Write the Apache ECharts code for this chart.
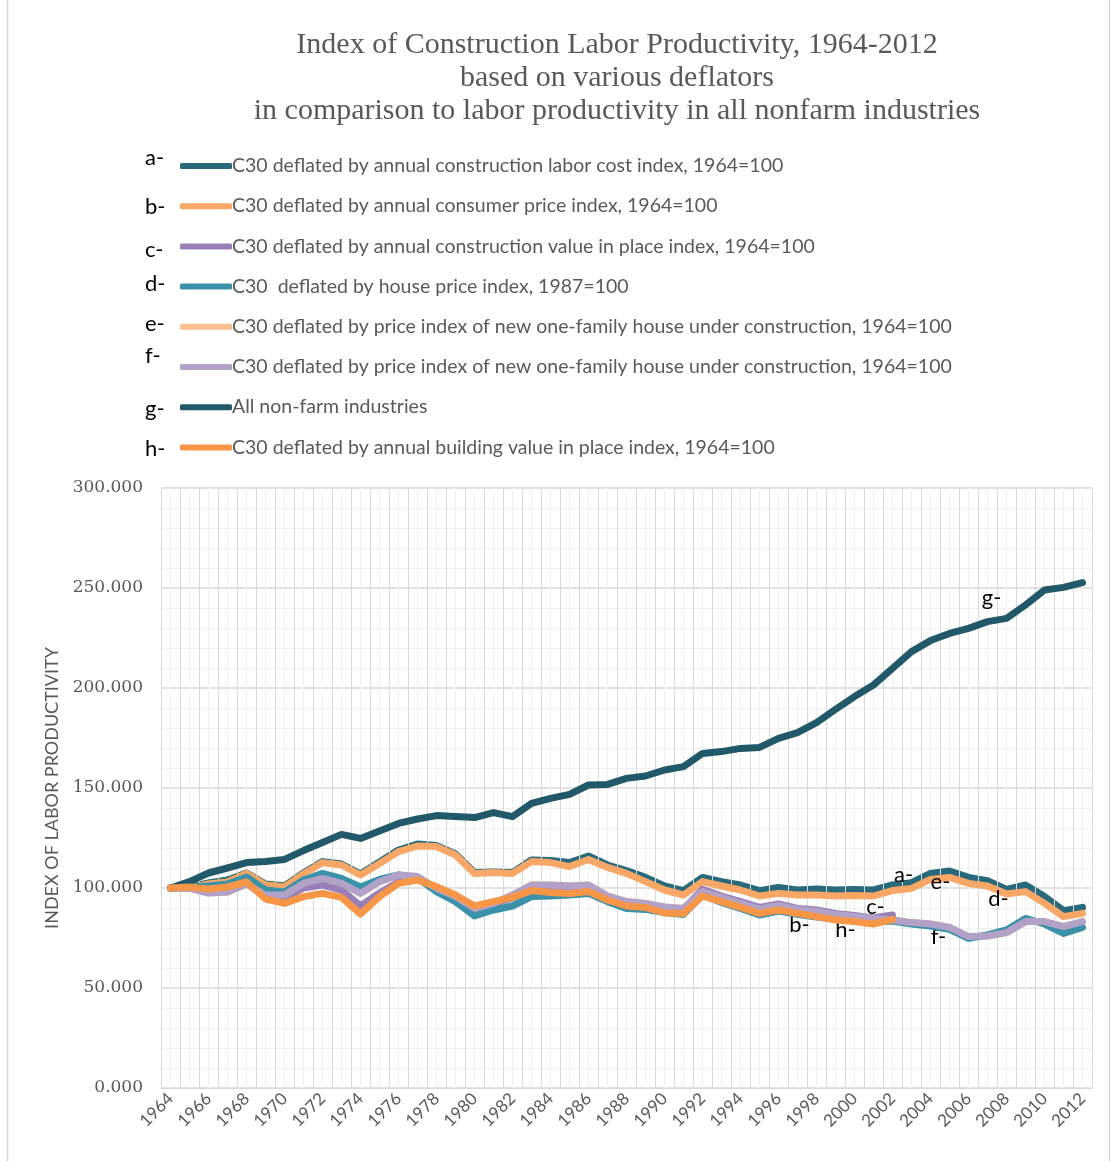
<!DOCTYPE html>
<html>
<head>
<meta charset="utf-8">
<title>Index of Construction Labor Productivity</title>
<script src="https://cdn.jsdelivr.net/npm/echarts@6/dist/echarts.min.js"></script>
<style>
  html, body { margin: 0; padding: 0; background: #fff; }
  #main { width: 1115px; height: 1161px; }
</style>
</head>
<body>
<div id="main"></div>
<script>
var years = ['1964','1965','1966','1967','1968','1969','1970','1971','1972','1973',
  '1974','1975','1976','1977','1978','1979','1980','1981','1982','1983',
  '1984','1985','1986','1987','1988','1989','1990','1991','1992','1993',
  '1994','1995','1996','1997','1998','1999','2000','2001','2002','2003',
  '2004','2005','2006','2007','2008','2009','2010','2011','2012'];

// a- construction labor cost index
var laborCost = [100, 100.5, 102.5, 104, 107.5, 102, 101, 107.5, 113.2, 112,
  107, 113, 119, 122, 121.2, 117, 107.7, 108, 107.7, 114,
  113.7, 112.7, 116, 111.5, 108.7, 105.3, 101, 98.7, 105.3, 103.2,
  101.5, 98.7, 100.3, 99, 99.5, 99, 99.3, 99, 101.5, 102.7,
  107.3, 108.5, 105.3, 103.7, 99.3, 101.5, 95.7, 88.7, 90.3];
// b- consumer price index
var consumerPrice = [100, 100, 102, 103, 107.3, 101.5, 100.5, 107, 112.7, 111.5,
  106.5, 112.3, 118.2, 121, 120.7, 116.5, 107.3, 107.7, 107.3, 113.2,
  112.7, 110.7, 114.3, 110.3, 107.3, 103.2, 99, 96.5, 103.2, 101,
  99, 96, 97.3, 96.5, 96.5, 96, 96.3, 96, 98.7, 99.8,
  104.3, 105.3, 102.3, 101, 97, 98.2, 92.3, 85.7, 87.3];
// c- construction value in place index (ends 2002)
var valueInPlace = [100, 100, 98, 99, 102.5, 95.5, 95, 100, 101.5, 99,
  91, 97.5, 103, 104.5, 100, 95.5, 89.5, 92, 95, 99.5,
  99.3, 99, 99.5, 95, 92.5, 92, 90, 89.5, 99.3, 96,
  93.2, 90.3, 92, 89.8, 89, 87.3, 86.2, 85, 86.5, null,
  null, null, null, null, null, null, null, null, null];
// d- house price index
var housePrice = [100, 100.5, 101, 102, 105.5, 99, 98, 104, 107.3, 104.8,
  100.5, 104.3, 106.5, 105, 98.2, 93.2, 86, 89, 91, 95.7,
  96, 96.5, 97.3, 93.2, 89.8, 89.3, 87.7, 86.8, 96.5, 92.8,
  89.8, 86.5, 88.5, 86.8, 85.5, 84.5, 83.5, 83.2, 83.5, 82,
  81, 79.3, 74.8, 76.5, 79, 84.8, 82, 77.3, 80.3];
// e- price index of new one-family house under construction
var newHouseE = [100, 100, 97.5, 98, 102, 96.5, 96.5, 102.3, 104.8, 102.3,
  97.3, 103.2, 106.5, 105.7, 99.8, 95.7, 89.8, 92.3, 96.5, 101.5,
  101.5, 101, 101.5, 96, 93.2, 92.3, 90.5, 89.8, 98.2, 95.3,
  92.3, 89.5, 91.3, 89.3, 88.3, 86.7, 85.8, 84.8, 84, 82.7,
  82, 80.3, 75.7, 76, 77.7, 83.2, 83.2, 80.7, 83.2];
// f- price index of new one-family house under construction
var newHouseF = [100, 100, 97.5, 98, 102, 96.5, 96.5, 102.3, 104.8, 102.3,
  97.3, 103.2, 106.5, 105.7, 99.8, 95.7, 89.8, 92.3, 96.5, 101.5,
  101.5, 101, 101.5, 96, 93.2, 92.3, 90.5, 89.8, 98.2, 95.3,
  92.3, 89.5, 91.3, 89.3, 88.3, 86.7, 85.8, 84.8, 84, 82.7,
  82, 80.3, 75.7, 76, 77.7, 83.2, 83.2, 80.7, 83.2];
// g- all non-farm industries
var nonFarm = [100, 103.2, 107.5, 110, 112.7, 113.3, 114.3, 118.7, 122.7, 126.8,
  124.8, 128.5, 132.3, 134.5, 136.2, 135.7, 135.2, 137.7, 135.7, 142.3,
  144.8, 146.8, 151.5, 151.8, 154.8, 156, 159, 160.7, 167.3, 168.2,
  169.8, 170.3, 174.8, 177.7, 182.7, 189.3, 195.7, 201.5, 209.8, 218.2,
  223.7, 227.3, 229.8, 233.2, 234.8, 241.5, 249, 250.3, 252.7];
// h- building value in place index (ends 2002)
var buildingValue = [100, 100.5, 99.5, 100.5, 103, 94.5, 92.3, 95.7, 97.3, 95.3,
  87, 95.7, 102.3, 104, 100.7, 96.5, 91, 93.2, 95.3, 98.7,
  97.7, 97.3, 98.2, 94, 91, 90.3, 87.5, 87.3, 96, 93.2,
  90.3, 87.3, 89, 87.3, 85.7, 84, 83.2, 82, 84.3, null,
  null, null, null, null, null, null, null, null, null];

var seriesNames = [
  'C30 deflated by annual construction labor cost index, 1964=100',
  'C30 deflated by annual consumer price index, 1964=100',
  'C30 deflated by annual construction value in place index, 1964=100',
  'C30  deflated by house price index, 1987=100',
  'C30 deflated by price index of new one-family house under construction, 1964=100',
  'C30 deflated by price index of new one-family house under construction, 1964=100 ',
  'All non-farm industries',
  'C30 deflated by annual building value in place index, 1964=100'
];
var prefixes = ['a-', 'b-', 'c-', 'd-', 'e-', 'f-', 'g-', 'h-'];
var colors = ['#286a7b', '#f9a766', '#987fb6', '#3a91a8', '#fac090', '#b3a2c7', '#215968', '#f79646'];
var seriesData = [laborCost, consumerPrice, valueInPlace, housePrice, newHouseE, newHouseF, nonFarm, buildingValue];

// annotation letters placed on the plot: [text, year, value, x offset]
var notes = [
  ['a-', '2003', 106.5, -8],
  ['e-', '2004', 103, 10],
  ['d-', '2008', 94.5, -8],
  ['c-', '2001', 90.5, 2],
  ['b-', '1997', 81.5, 2],
  ['h-', '2000', 79, -9],
  ['f-', '2004', 75.5, 8],
  ['g-', '2007', 245, 4]
];

var myChart = echarts.init(document.getElementById('main'));
var grey = '#595959';
var font = 'Lato, "Open Sans", sans-serif';

var series = seriesNames.map(function (name, i) {
  return {
    name: name,
    type: 'line',
    data: seriesData[i],
    symbol: 'none',
    z: i === 4 ? 1 : 2 + i,
    lineStyle: { width: 7, color: colors[i], join: 'round', cap: 'round' },
    itemStyle: { color: colors[i] }
  };
});

series[6].markPoint = {
  symbol: 'circle',
  symbolSize: 1,
  itemStyle: { color: 'rgba(0,0,0,0)' },
  label: {
    show: true,
    position: 'inside',
    color: '#000',
    fontSize: 22,
    fontFamily: font,
    formatter: function (p) { return p.name; }
  },
  data: notes.map(function (n) {
    return { name: n[0], coord: [n[1], n[2]], label: { offset: [n[3], 0] } };
  })
};

// frame, title and legend prefixes a- ... h-
var graphics = [{
  type: 'rect',
  shape: { x: 7.5, y: -2, width: 1102, height: 1170 },
  style: { fill: 'none', stroke: '#d9d9d9', lineWidth: 1.5 },
  silent: true
}, {
  type: 'text',
  x: 617, y: 29,
  style: {
    text: 'Index of Construction Labor Productivity, 1964-2012\nbased on various deflators\nin comparison to labor productivity in all nonfarm industries',
    align: 'center',
    fill: grey,
    font: '30px "Liberation Serif", serif',
    lineHeight: 33
  }
}];
var prefixY = [158, 207, 250, 284, 324, 356, 409, 449];
prefixes.forEach(function (p, i) {
  graphics.push({
    type: 'text',
    x: 145, y: prefixY[i],
    style: { text: p, fill: '#000', font: '22px ' + font, verticalAlign: 'middle' }
  });
});

myChart.setOption({
  backgroundColor: '#fff',
  animation: false,
  color: colors,
  graphic: graphics,
  legend: {
    orient: 'vertical',
    left: 175,
    top: 151,
    itemGap: 20.2,
    itemWidth: 52,
    itemHeight: 6,
    icon: 'roundRect',
    data: seriesNames,
    textStyle: { color: grey, fontSize: 19.5, fontFamily: font, lineHeight: 20, padding: [0, 0, 0, -5] }
  },
  grid: { left: 161, right: 23, top: 488, bottom: 73 },
  xAxis: [{
    type: 'category',
    data: years,
    boundaryGap: true,
    axisLine: { lineStyle: { color: '#d9d9d9' } },
    axisTick: { show: false },
    axisLabel: { interval: 1, rotate: 45, color: grey, fontSize: 17, fontFamily: font, margin: 8 },
    splitLine: { show: true, interval: 0, lineStyle: { color: '#d9d9d9', width: 1 } },
    z: 3
  }, {
    type: 'value',
    min: 0,
    max: 98,
    interval: 1,
    position: 'top',
    axisLine: { show: false },
    axisTick: { show: false },
    axisLabel: { show: false },
    splitLine: { show: true, lineStyle: { color: '#f0f0f0', width: 1 } },
    z: 1
  }],
  yAxis: {
    type: 'value',
    min: 0,
    max: 300,
    interval: 50,
    name: 'INDEX OF LABOR PRODUCTIVITY',
    nameLocation: 'middle',
    nameGap: 100,
    nameRotate: 90,
    nameTextStyle: { color: grey, fontSize: 18, fontFamily: font },
    axisLine: { show: false },
    axisTick: { show: false },
    axisLabel: {
      color: grey, fontSize: 17, fontFamily: '"DejaVu Serif", serif', margin: 18,
      formatter: function (v) { return v.toFixed(3); }
    },
    splitLine: { lineStyle: { color: '#d9d9d9', width: 1.5 } },
    minorTick: { show: false, splitNumber: 5 },
    minorSplitLine: { show: true, lineStyle: { color: '#f0f0f0', width: 1 } }
  },
  series: series
});
</script>
</body>
</html>
